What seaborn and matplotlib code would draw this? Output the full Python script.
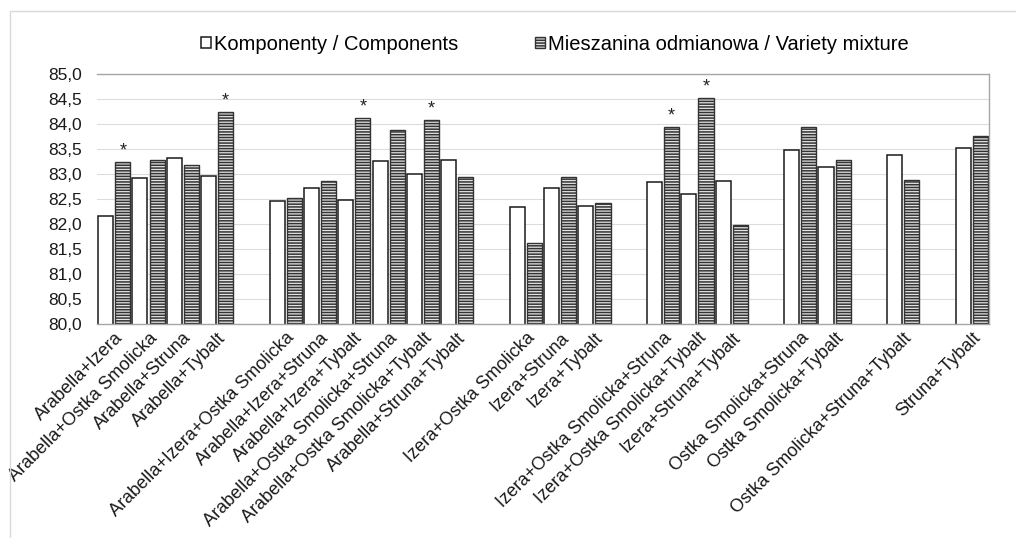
import matplotlib
matplotlib.use("Agg")
import matplotlib.pyplot as plt
from matplotlib.patches import Rectangle, Patch
from matplotlib.ticker import FuncFormatter, MultipleLocator
import numpy as np
import pandas as pd
import seaborn as sns

# Variety combinations, grouped; empty slots separate the groups on the axis
cat_order = [
    "Arabella+Izera", "Arabella+Ostka Smolicka", "Arabella+Struna", "Arabella+Tybalt",
    " ",
    "Arabella+Izera+Ostka Smolicka", "Arabella+Izera+Struna", "Arabella+Izera+Tybalt",
    "Arabella+Ostka Smolicka+Struna", "Arabella+Ostka Smolicka+Tybalt", "Arabella+Struna+Tybalt",
    "  ",
    "Izera+Ostka Smolicka", "Izera+Struna", "Izera+Tybalt",
    "   ",
    "Izera+Ostka Smolicka+Struna", "Izera+Ostka Smolicka+Tybalt", "Izera+Struna+Tybalt",
    "    ",
    "Ostka Smolicka+Struna", "Ostka Smolicka+Tybalt",
    "     ",
    "Ostka Smolicka+Struna+Tybalt",
    "      ",
    "Struna+Tybalt",
]
categories = [c for c in cat_order if c.strip()]

components = [82.16, 82.91, 83.31, 82.95,
              82.46, 82.72, 82.48, 83.25, 82.99, 83.27,
              82.33, 82.72, 82.35,
              82.83, 82.60, 82.85,
              83.48, 83.13,
              83.38,
              83.51]
mixture = [83.23, 83.28, 83.17, 84.23,
           82.52, 82.85, 84.11, 83.87, 84.07, 82.93,
           81.61, 82.93, 82.42,
           83.93, 84.51, 81.97,
           83.93, 83.27,
           82.87,
           83.75]
significant = [True, False, False, True,
               False, False, True, False, True, False,
               False, False, False,
               True, True, False,
               False, False,
               False,
               False]

series_names = ["Komponenty / Components", "Mieszanina odmianowa / Variety mixture"]

df = pd.DataFrame({
    "combination": categories * 2,
    "value": components + mixture,
    "series": [series_names[0]] * len(categories) + [series_names[1]] * len(categories),
})

plt.rcParams["font.family"] = ["Liberation Sans", "DejaVu Sans"]
plt.rcParams["hatch.linewidth"] = 1.1

fig = plt.figure(figsize=(10.16, 5.38), dpi=100)
ax = fig.add_axes([0.0955, 0.3978, 0.8779, 0.4647])

sns.barplot(data=df, x="combination", y="value", hue="series", order=cat_order,
            hue_order=series_names, width=1.0, gap=0.12, errorbar=None,
            ax=ax, zorder=2, legend=False)

white_style = dict(facecolor="white", edgecolor="#1a1a1a", linewidth=1.1)
striped_style = dict(facecolor="#e4e4e4", hatch="------", linewidth=1.0)

def style_striped(p):
    p.set_facecolor(striped_style["facecolor"])
    p.set_hatch(striped_style["hatch"])
    p.set_linewidth(striped_style["linewidth"])
    if hasattr(p, "set_hatchcolor"):
        p.set_edgecolor("#9a9a9a")
        p.set_hatchcolor("#111111")
    else:
        p.set_edgecolor("#333333")

# Outline-only bars for the components, striped bars for the mixture
for bar in ax.containers[0]:
    bar.set(**white_style)
for bar in ax.containers[1]:
    style_striped(bar)

# Significance markers above the mixture bars
for bar in ax.containers[1]:
    xc = bar.get_x() + bar.get_width() / 2
    name = cat_order[int(round(xc))]
    idx = categories.index(name)
    if significant[idx]:
        ax.annotate("*", xy=(xc, bar.get_height()), xytext=(0, 2),
                    textcoords="offset points", ha="center", va="bottom",
                    fontsize=13, color="#222222")

ax.set_xlim(-0.5, len(cat_order) - 0.5)
ax.set_ylim(80.0, 85.0)
ax.yaxis.set_major_locator(MultipleLocator(0.5))
ax.yaxis.set_major_formatter(FuncFormatter(lambda v, _: f"{v:.1f}".replace(".", ",")))
ax.grid(axis="y", color="#dcdcdc", linewidth=0.8, zorder=0)
ax.set_axisbelow(True)
for side in ["top", "right", "left", "bottom"]:
    ax.spines[side].set_color("#a6a6a6")
    ax.spines[side].set_linewidth(1.0)
ax.spines["left"].set_visible(False)

ax.tick_params(axis="y", length=0, pad=11, labelsize=12.5, labelcolor="#1a1a1a")
ax.tick_params(axis="x", length=0, pad=4, labelsize=13, labelcolor="#1a1a1a")
ax.set_xticks(range(len(cat_order)))
ax.set_xticklabels(cat_order, rotation=45, ha="right", rotation_mode="anchor")
ax.set_xlabel("")
ax.set_ylabel("")

h_white = Patch(**white_style, label=series_names[0])
h_striped = Patch(label=series_names[1])
style_striped(h_striped)
ax.legend([h_white, h_striped], series_names, loc="center",
          bbox_to_anchor=(0.546, 0.918), bbox_transform=fig.transFigure,
          ncol=2, frameon=False, fontsize=14.5,
          handlelength=0.5, handleheight=0.5, handletextpad=0.15,
          columnspacing=3.8, borderaxespad=0)

# Chart frame
fig.patches.append(Rectangle((10 / 1016, -0.1), 1.2, 1.1 - 11 / 538,
                             transform=fig.transFigure, fill=False,
                             edgecolor="#d9d9d9", linewidth=1.0, zorder=0))

fig.savefig("out.png", dpi=100, facecolor="white")
